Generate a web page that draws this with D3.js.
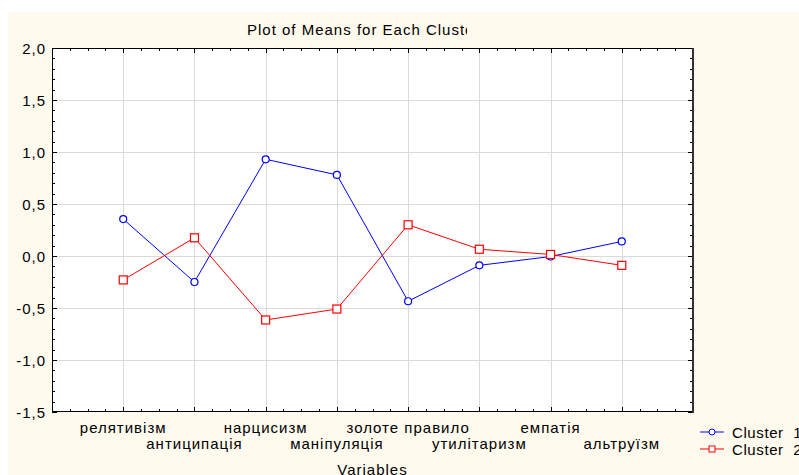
<!DOCTYPE html>
<html>
<head>
<meta charset="utf-8">
<script src="https://cdnjs.cloudflare.com/ajax/libs/d3/7.8.5/d3.min.js"></script>
<style>
  body { margin: 0; background: #fff; }
  text { font-family: "Liberation Sans", Arial, sans-serif; fill: #000; }
</style>
</head>
<body>
<div id="chartId"></div>
<script>
// data
var variables = ["релятивізм", "антиципація", "нарцисизм", "маніпуляція",
                 "золоте правило", "утилітаризм", "емпатія", "альтруїзм"];
var cluster1 = [0.355, -0.25, 0.93, 0.78, -0.435, -0.09, -0.005, 0.14];
var cluster2 = [-0.23, 0.175, -0.615, -0.51, 0.30, 0.065, 0.015, -0.09];
var yTicks = [-1.5, -1.0, -0.5, 0.0, 0.5, 1.0, 1.5, 2.0];
var seriesNames = ["Cluster  1", "Cluster  2"];

var W = 799, H = 475;
var pLeft = 52, pRight = 693, pTop = 48, pBottom = 412;
var fs = 15, ls = 1;

var svg = d3.select("#chartId").append("svg")
    .attr("width", W).attr("height", H);

// cream background panel
svg.append("rect").attr("x", 8).attr("y", 12).attr("width", W - 8).attr("height", H - 12)
    .attr("fill", "#fffaee");

var x = d3.scalePoint().domain(variables).range([pLeft, pRight]).padding(1);
var y = d3.scaleLinear().domain([-1.5, 2.0]).range([pBottom, pTop]);
var step = x.step();

// plot area
svg.append("rect").attr("x", pLeft).attr("y", pTop)
    .attr("width", pRight - pLeft).attr("height", pBottom - pTop).attr("fill", "#fff");

// grid
svg.append("g").selectAll("line").data(yTicks.slice(1, -1)).enter().append("line")
    .attr("x1", pLeft).attr("x2", pRight)
    .attr("y1", function(d) { return Math.round(y(d)) + 0.5; })
    .attr("y2", function(d) { return Math.round(y(d)) + 0.5; })
    .attr("stroke", "#dadada");
svg.append("g").selectAll("line").data(variables).enter().append("line")
    .attr("y1", pTop).attr("y2", pBottom)
    .attr("x1", function(d) { return Math.round(x(d)) + 0.5; })
    .attr("x2", function(d) { return Math.round(x(d)) + 0.5; })
    .attr("stroke", "#dadada");

// minor ticks
var yMinor = d3.range(-15, 21).map(function(i) { return i / 10; });
var ticks = svg.append("g").attr("stroke", "#000");
yMinor.forEach(function(v) {
    var len = (Math.round(v * 10) % 5 === 0) ? 5 : 3;
    ticks.append("line").attr("x1", pLeft).attr("x2", pLeft + len)
        .attr("y1", Math.round(y(v)) + 0.5).attr("y2", Math.round(y(v)) + 0.5);
    ticks.append("line").attr("x1", pRight - len).attr("x2", pRight)
        .attr("y1", Math.round(y(v)) + 0.5).attr("y2", Math.round(y(v)) + 0.5);
});
d3.range(1, 36).forEach(function(i) {
    var px = Math.round(pLeft + i * step / 4) + 0.5;
    var len = (i % 4 === 0) ? 5 : 3;
    ticks.append("line").attr("x1", px).attr("x2", px).attr("y1", pTop).attr("y2", pTop + len);
    ticks.append("line").attr("x1", px).attr("x2", px).attr("y1", pBottom - len).attr("y2", pBottom);
});

// frame
svg.append("rect").attr("x", pLeft + 0.5).attr("y", pTop + 0.5)
    .attr("width", pRight - pLeft - 1).attr("height", pBottom - pTop - 1)
    .attr("fill", "none").attr("stroke", "#000");
svg.append("line").attr("x1", pRight).attr("x2", pRight).attr("y1", pTop).attr("y2", pBottom + 1)
    .attr("stroke", "#333").attr("stroke-width", 2);

// y labels
svg.append("g").selectAll("text").data(yTicks).enter().append("text")
    .attr("x", pLeft - 6).attr("y", function(d) { return y(d) + 5.5; })
    .attr("text-anchor", "end").attr("font-size", fs).attr("letter-spacing", ls)
    .text(function(d) { return d.toFixed(1).replace(".", ","); });

// x labels, staggered
svg.append("g").selectAll("text").data(variables).enter().append("text")
    .attr("x", function(d) { return x(d); })
    .attr("y", function(d, i) { return i % 2 === 0 ? 433 : 449; })
    .attr("text-anchor", "middle").attr("font-size", fs).attr("letter-spacing", ls)
    .text(function(d) { return d; });

svg.append("text").attr("x", (pLeft + pRight) / 2).attr("y", 475)
    .attr("text-anchor", "middle").attr("font-size", fs).attr("letter-spacing", ls)
    .text("Variables");

// title, clipped like the original
svg.append("clipPath").attr("id", "titleClip").append("rect")
    .attr("x", 0).attr("y", 0).attr("width", 467).attr("height", 45);
svg.append("text").attr("x", 247).attr("y", 35).attr("clip-path", "url(#titleClip)")
    .attr("font-size", fs).attr("letter-spacing", ls)
    .text("Plot of Means for Each Cluster");

// series
var colors = ["#0000ff", "#ff0000"];
[cluster1, cluster2].forEach(function(vals, s) {
    var line = d3.line()
        .x(function(d, i) { return x(variables[i]); })
        .y(function(d) { return y(d); });
    svg.append("path").datum(vals).attr("d", line)
        .attr("fill", "none").attr("stroke", colors[s]).attr("stroke-width", 1);
    var g = svg.append("g");
    if (s === 0) {
        g.selectAll("circle").data(vals).enter().append("circle")
            .attr("cx", function(d, i) { return x(variables[i]); })
            .attr("cy", function(d) { return y(d); })
            .attr("r", 3.5).attr("fill", "#fff").attr("stroke", colors[s]).attr("stroke-width", 1.2);
    } else {
        g.selectAll("rect").data(vals).enter().append("rect")
            .attr("x", function(d, i) { return x(variables[i]) - 4; })
            .attr("y", function(d) { return y(d) - 4; })
            .attr("width", 8).attr("height", 8)
            .attr("fill", "#fff").attr("stroke", colors[s]).attr("stroke-width", 1.2);
    }
});

// legend
seriesNames.forEach(function(name, s) {
    var ly = 432 + s * 17;
    svg.append("line").attr("x1", 700).attr("x2", 724).attr("y1", ly).attr("y2", ly)
        .attr("stroke", colors[s]);
    if (s === 0) {
        svg.append("circle").attr("cx", 712).attr("cy", ly).attr("r", 3)
            .attr("fill", "#fff").attr("stroke", colors[s]);
    } else {
        svg.append("rect").attr("x", 709).attr("y", ly - 3).attr("width", 6).attr("height", 6)
            .attr("fill", "#fff").attr("stroke", colors[s]);
    }
    svg.append("text").attr("x", 732).attr("y", ly + 6)
        .attr("font-size", fs).attr("letter-spacing", 0.6)
        .style("white-space", "pre")
        .text(name);
});
</script>
</body>
</html>
